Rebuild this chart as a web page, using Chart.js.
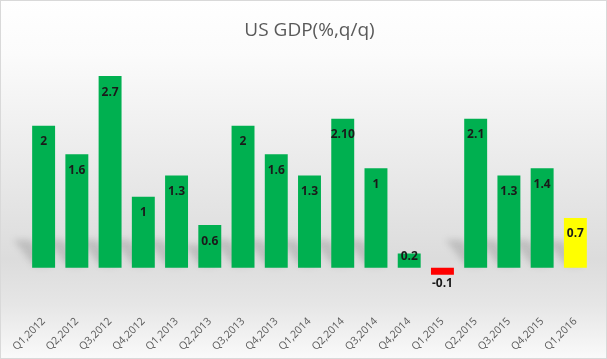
<!DOCTYPE html>
<html>
<head>
<meta charset="utf-8">
<script src="https://cdn.jsdelivr.net/npm/chart.js@4.4.1/dist/chart.umd.min.js"></script>
<style>
  html, body { margin: 0; padding: 0; background: #fff; }
  #wrap { position: relative; width: 607px; height: 359px; box-sizing: border-box; }
  canvas { display: block; }
</style>
</head>
<body>
<div id="wrap"><canvas id="c" width="607" height="359"></canvas></div>
<script>
const categories = ['Q1,2012','Q2,2012','Q3,2012','Q4,2012','Q1,2013','Q2,2013','Q3,2013','Q4,2013','Q1,2014','Q2,2014','Q3,2014','Q4,2014','Q1,2015','Q2,2015','Q3,2015','Q4,2015','Q1,2016'];
const gdpValues = [2, 1.6, 2.7, 1, 1.3, 0.6, 2, 1.6, 1.3, 2.1, 1.4, 0.2, -0.1, 2.1, 1.3, 1.4, 0.7];
const valueLabels = ['2','1.6','2.7','1','1.3','0.6','2','1.6','1.3','2.10','1','0.2','-0.1','2.1','1.3','1.4','0.7'];
const barColors = ['#00B050','#00B050','#00B050','#00B050','#00B050','#00B050','#00B050','#00B050','#00B050','#00B050','#00B050','#00B050','#FF0000','#00B050','#00B050','#00B050','#FFFF00'];

const bgPlugin = {
  id: 'bg',
  beforeDraw(chart) {
    const ctx = chart.ctx, w = chart.width, h = chart.height;
    ctx.save();
    const g = ctx.createLinearGradient(0, 0, 0, h);
    g.addColorStop(0, '#ffffff');
    g.addColorStop(0.15, '#fbfbfb');
    g.addColorStop(0.72, '#dcdcdc');
    g.addColorStop(0.85, '#e6e6e6');
    g.addColorStop(1, '#fafafa');
    ctx.fillStyle = g;
    ctx.fillRect(0, 0, w, h);
    ctx.strokeStyle = '#d9d9d9';
    ctx.lineWidth = 1;
    ctx.strokeRect(0.5, 0.5, w - 1, h - 1);
    ctx.restore();
  }
};

const shadowPlugin = {
  id: 'barShadow',
  beforeDatasetsDraw(chart) {
    const ctx = chart.ctx;
    const meta = chart.getDatasetMeta(0);
    ctx.save();
    ctx.filter = 'blur(3px)';
    ctx.fillStyle = 'rgba(70,70,70,0.2)';
    meta.data.forEach((bar) => {
      const h = bar.base - bar.y;
      if (h <= 20) return;
      const left = bar.x - bar.width / 2, right = bar.x + bar.width / 2;
      const d = Math.min(h * 0.5, 26);
      ctx.beginPath();
      ctx.moveTo(left + 2, bar.base - 2);
      ctx.lineTo(right - 4, bar.base - 2);
      ctx.lineTo(right - 4 - d * 0.8, bar.base - 2 - d);
      ctx.lineTo(left + 2 - d * 0.8, bar.base - 2 - d);
      ctx.closePath();
      ctx.fill();
    });
    ctx.restore();
  }
};

const labelPlugin = {
  id: 'valueLabels',
  afterDatasetsDraw(chart) {
    const ctx = chart.ctx;
    const meta = chart.getDatasetMeta(0);
    ctx.save();
    ctx.font = 'bold 12px "Open Sans", "Liberation Sans", sans-serif';
    ctx.fillStyle = '#1a1a1a';
    ctx.textAlign = 'center';
    ctx.textBaseline = 'middle';
    meta.data.forEach((bar, i) => {
      const v = gdpValues[i];
      const h = bar.base - bar.y;
      let y;
      if (v >= 0) y = bar.y + Math.min(16, Math.max(h - 12, 3));
      else y = bar.y + 9;
      ctx.fillText(valueLabels[i], bar.x, y);
    });
    ctx.restore();
  }
};

new Chart(document.getElementById('c'), {
  type: 'bar',
  data: {
    labels: categories,
    datasets: [{
      data: gdpValues,
      backgroundColor: barColors,
      borderWidth: 0,
      barPercentage: 0.69,
      categoryPercentage: 1.0
    }]
  },
  options: {
    responsive: false,
    animation: false,
    devicePixelRatio: 1,
    layout: { padding: { left: 27, right: 15, top: 0, bottom: 2 } },
    plugins: {
      legend: { display: false },
      tooltip: { enabled: false },
      title: {
        display: true,
        text: 'US GDP(%,q/q)',
        color: '#595959',
        font: { family: '"Open Sans", "Liberation Sans", sans-serif', size: 19, weight: 'normal' },
        padding: { top: 19, bottom: 13 }
      }
    },
    scales: {
      x: {
        grid: { display: false },
        border: { display: false },
        ticks: {
          color: '#595959',
          font: { family: '"Open Sans", "Liberation Sans", sans-serif', size: 10.5 },
          minRotation: 45,
          maxRotation: 45,
          padding: 4,
          autoSkip: false
        }
      },
      y: {
        display: false,
        min: -0.5,
        max: 3
      }
    }
  },
  plugins: [bgPlugin, shadowPlugin, labelPlugin]
});
</script>
</body>
</html>
